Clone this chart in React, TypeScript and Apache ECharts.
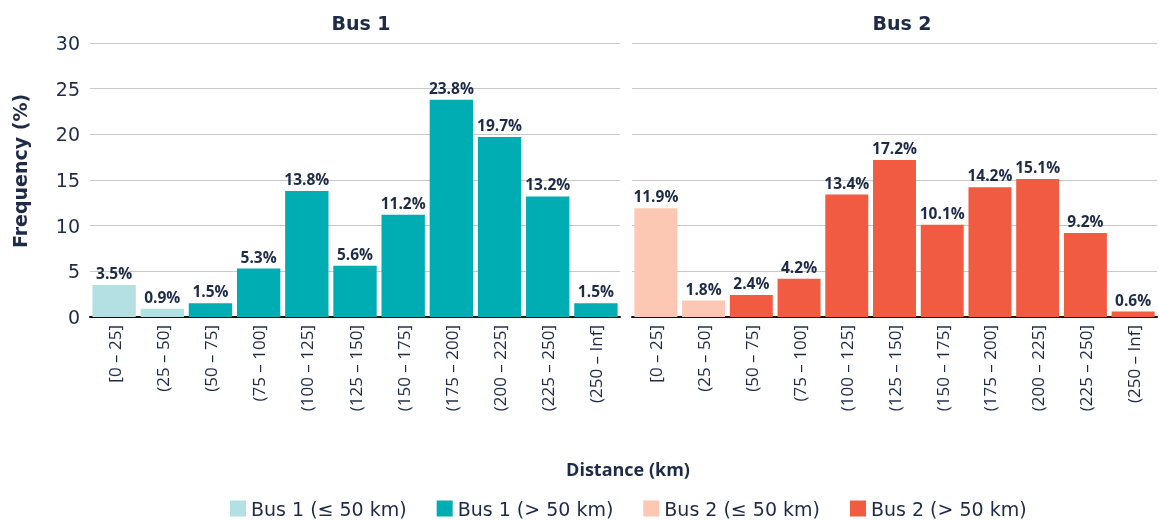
import React, { useEffect, useRef } from "react";
import * as echarts from "echarts";

const categories = ["[0 – 25]", "(25 – 50]", "(50 – 75]", "(75 – 100]", "(100 – 125]", "(125 – 150]", "(150 – 175]", "(175 – 200]", "(200 – 225]", "(225 – 250]", "(250 – Inf]"];
const bus1Short = [3.5, 0.9, null, null, null, null, null, null, null, null, null];
const bus1Long = [null, null, 1.5, 5.3, 13.8, 5.6, 11.2, 23.8, 19.7, 13.2, 1.5];
const bus2Short = [11.9, 1.8, null, null, null, null, null, null, null, null, null];
const bus2Long = [null, null, 2.4, 4.2, 13.4, 17.2, 10.1, 14.2, 15.1, 9.2, 0.6];
const yTicks = { min: 0, max: 30, interval: 5 };

const TEXT = "#1e2b48";
const FONT = "'Open Sans', sans-serif";
const WIDE = "'DejaVu Sans', sans-serif";

export default function App() {
  const ref = useRef<HTMLDivElement>(null);
  useEffect(() => {
    const chart = echarts.init(ref.current!, null, { renderer: "svg" });
    const label = {
      show: true,
      position: "top",
      distance: 4,
      color: TEXT,
      fontFamily: FONT,
      fontWeight: "bold",
      fontSize: 15.5,
      formatter: (p: any) => (p.value == null ? "" : p.value + "%"),
    };
    const xAxisBase = {
      type: "category",
      data: categories,
      axisLine: { lineStyle: { color: "#111", width: 2 } },
      axisTick: { show: false },
      axisLabel: { rotate: 90, color: TEXT, fontFamily: FONT, fontSize: 17, margin: 8, interval: 0 },
    };
    const yBase = {
      type: "value",
      min: yTicks.min,
      max: yTicks.max,
      interval: yTicks.interval,
      splitLine: { lineStyle: { color: "#c8c8c8", width: 1 } },
      axisLine: { show: false },
      axisTick: { show: false },
    };
    const mk = (name: string, data: any[], color: string, idx: number) => ({
      name,
      type: "bar",
      data,
      stack: "s" + idx,
      xAxisIndex: idx,
      yAxisIndex: idx,
      barCategoryGap: "10%",
      itemStyle: { color },
      label,
    });
    const titleStyle = { color: TEXT, fontFamily: WIDE, fontWeight: "bold", fontSize: 19 };
    chart.setOption({
      animation: false,
      textStyle: { fontFamily: FONT },
      title: [
        { text: "Bus 1", left: 356, top: 8, textAlign: "center", textStyle: titleStyle },
        { text: "Bus 2", left: 897, top: 8, textAlign: "center", textStyle: titleStyle },
        { text: "Distance (km)", left: 623, top: 455, textAlign: "center", textStyle: { color: TEXT, fontFamily: FONT, fontWeight: "bold", fontSize: 18 } },
      ],
      graphic: [
        {
          type: "text",
          x: 20,
          y: 171,
          rotation: Math.PI / 2,
          style: { text: "Frequency (%)", fill: TEXT, font: "bold 19px 'DejaVu Sans', sans-serif", align: "center", verticalAlign: "middle" },
        },
      ],
      legend: {
        top: 497,
        left: 228,
        itemWidth: 16,
        itemHeight: 16,
        itemGap: 30,
        icon: "rect",
        padding: 2,
        textStyle: { color: TEXT, fontFamily: WIDE, fontSize: 19 },
      },
      grid: [
        { left: 90, right: 539, top: 43, bottom: 203 },
        { left: 632, right: 2, top: 43, bottom: 203 },
      ],
      xAxis: [
        { ...xAxisBase, gridIndex: 0 },
        { ...xAxisBase, gridIndex: 1 },
      ],
      yAxis: [
        {
          ...yBase,
          gridIndex: 0,
          axisLabel: { color: TEXT, fontFamily: WIDE, fontSize: 19, margin: 10 },
        },
        { ...yBase, gridIndex: 1, axisLabel: { show: false } },
      ],
      series: [
        mk("Bus 1 (≤ 50 km)", bus1Short, "#b3e0e2", 0),
        mk("Bus 1 (> 50 km)", bus1Long, "#00adb3", 0),
        mk("Bus 2 (≤ 50 km)", bus2Short, "#fcc8b4", 1),
        mk("Bus 2 (> 50 km)", bus2Long, "#f15b41", 1),
      ],
    });
    return () => chart.dispose();
  }, []);
  return <div ref={ref} style={{ position: "fixed", left: 0, top: 0, width: 1159, height: 520 }} />;
}
